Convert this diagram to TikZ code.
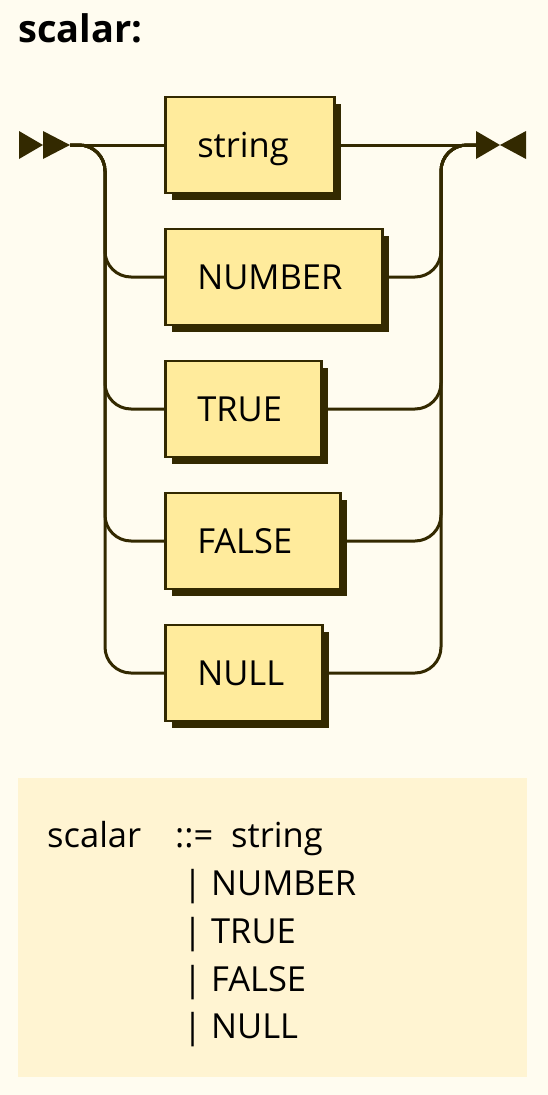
\documentclass[tikz,border=0pt]{standalone}
\usepackage{fontspec}
\setmainfont{Open Sans}
\usepackage{tikz}
\usetikzlibrary{shadows,positioning}
\definecolor{railbg}{HTML}{FFFCF0}
\definecolor{railline}{HTML}{332900}
\definecolor{termfill}{HTML}{FFEB9C}
\definecolor{ebnffill}{HTML}{FFF4D2}

\begin{document}
\begin{tikzpicture}[x=1pt, y=-1pt,
    rail/.style={draw=railline, line width=3pt, rounded corners=26pt},
    ebnftext/.style={anchor=base west, inner sep=0pt, font=\fontsize{34.5}{40}\selectfont}]
   \fill[railbg] (0,0) rectangle (548,1095);
   \node (title) [anchor=base west, inner sep=0pt, font=\bfseries\fontsize{38}{42}\selectfont] at (18,42) {scalar:};
   % start and end marks
   \fill[railline] (19,131) -- (43,145) -- (19,159) -- cycle;
   \fill[railline] (43,131) -- (70,145) -- (43,159) -- cycle;
   \fill[railline] (476,131) -- (500,145) -- (476,159) -- cycle;
   \fill[railline] (526,131) -- (500,145) -- (526,159) -- cycle;
   \coordinate (in) at (70,145);
   \coordinate (out) at (476,145);
   \coordinate (lrail) at (105,145);
   \coordinate (rrail) at (441,145);
   \begin{scope}[every node/.style={rectangle, draw=railline, fill=termfill, line width=2.5pt,
        anchor=west, align=left, inner xsep=32pt, minimum height=96pt,
        text height=25pt, text depth=0pt, font=\fontsize{34.5}{40}\selectfont,
        drop shadow={shadow xshift=7pt, shadow yshift=-7pt, fill=railline, opacity=1}}]
    \node (t1) [text width=105pt] at (164,145) {string};
    \node (t2) [text width=153pt] at (164,277) {NUMBER};
    \node (t3) [text width=92pt] at (164,409) {TRUE};
    \node (t4) [text width=111pt] at (164,541) {FALSE};
    \node (t5) [text width=93pt] at (164,673) {NULL};
   \end{scope}
   \draw[rail] (in) -- (t1.west);
   \draw[rail] (t1.east) -- (out);
   \foreach \n in {t2,t3,t4,t5} {
    \draw[rail] (in) -- (lrail) |- (\n.west);
    \draw[rail] (\n.east) -| (rrail) -- (out);
   }
   % ebnf text
   \node (ebnf) [fill=ebnffill, anchor=north west, inner sep=0pt, minimum width=509pt, minimum height=299pt] at (18,778) {};
   \node (lhs) [ebnftext] at (47,847) {scalar};
   \node (def) [ebnftext] at (175,847) {::=};
   \node (r1) [ebnftext] at (231,847) {string};
   \node (r2) [ebnftext] at (183,895) {| NUMBER};
   \node (r3) [ebnftext] at (183,943) {| TRUE};
   \node (r4) [ebnftext] at (183,991) {| FALSE};
   \node (r5) [ebnftext] at (183,1038) {| NULL};
\end{tikzpicture}
\end{document}
